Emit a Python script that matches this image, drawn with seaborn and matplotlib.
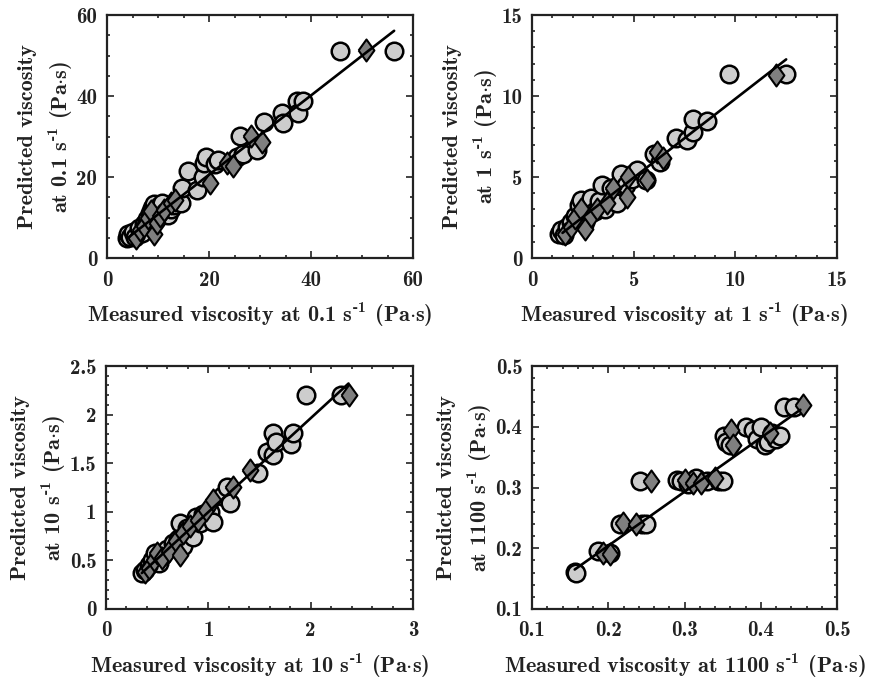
import numpy as np
import pandas as pd
import matplotlib
matplotlib.use("Agg")
import matplotlib.pyplot as plt
import seaborn as sns
from matplotlib.ticker import MultipleLocator, FuncFormatter

# ---------------- data ----------------
# Panel 1: 0.1 s^-1
c1_x = [3.9, 4.2, 4.6, 5.0, 5.5, 6.2, 6.8, 7.3, 7.8, 8.4, 8.8, 9.3, 9.6, 10.2, 10.8, 11.3, 11.9, 12.5,
        13.2, 14.6, 14.8, 15.8, 17.6, 18.9, 19.1, 19.4, 21.2, 21.8, 25.5, 26.1, 26.7, 29.5, 30.8, 34.4,
        34.5, 37.2, 37.4, 38.4, 45.7, 56.3]
c1_y = [4.9, 6.0, 5.3, 6.5, 5.2, 7.5, 6.2, 8.3, 9.6, 11.2, 12.4, 13.3, 10.8, 12.8, 13.5, 11.4, 10.6, 12.0,
        13.0, 13.5, 17.2, 21.6, 16.8, 20.1, 23.4, 25.0, 23.1, 24.2, 25.0, 30.1, 25.7, 26.7, 33.7, 35.7,
        33.4, 38.8, 35.7, 38.8, 51.0, 51.0]
d1_x = [5.6, 6.5, 7.2, 8.0, 8.6, 9.2, 9.8, 10.4, 11.2, 12.5, 13.3, 20.2, 23.6, 24.8, 28.2, 30.3, 50.7]
d1_y = [5.0, 6.8, 7.8, 9.8, 11.5, 6.0, 8.7, 10.3, 11.8, 13.6, 14.3, 18.6, 23.4, 22.8, 30.1, 28.7, 51.4]
f1_x = [4.0, 56.3]
f1_y = [4.9, 56.1]

# Panel 2: 1 s^-1
c2_x = [1.35, 1.45, 1.55, 1.7, 1.9, 2.1, 2.3, 2.4, 2.6, 2.8, 2.9, 3.1, 3.3, 3.43, 3.6, 3.9, 4.0, 4.2,
        4.4, 4.6, 4.9, 5.15, 5.6, 6.0, 6.3, 7.1, 7.6, 7.9, 7.9, 8.6, 9.7, 12.5]
c2_y = [1.5, 1.7, 1.45, 1.9, 2.2, 2.6, 3.3, 3.6, 2.2, 3.1, 3.7, 2.9, 3.5, 4.5, 3.0, 4.3, 3.7, 3.4,
        5.2, 4.5, 4.9, 5.43, 4.8, 6.4, 5.9, 7.4, 7.3, 7.8, 8.56, 8.48, 11.36, 11.36]
d2_x = [1.6, 1.9, 2.1, 2.4, 2.6, 2.9, 3.2, 3.67, 4.0, 4.66, 4.7, 5.64, 6.13, 6.43, 12.0]
d2_y = [1.5, 1.9, 2.5, 3.0, 1.8, 2.6, 3.0, 3.37, 4.3, 3.78, 5.0, 4.81, 6.56, 6.15, 11.3]
f2_x = [1.5, 12.5]
f2_y = [1.55, 12.26]

# Panel 3: 10 s^-1
c3_x = [0.35, 0.38, 0.42, 0.45, 0.48, 0.52, 0.55, 0.6, 0.65, 0.7, 0.72, 0.75, 0.79, 0.82, 0.85, 0.88,
        0.92, 0.95, 1.02, 1.05, 1.13, 1.18, 1.21, 1.49, 1.57, 1.63, 1.635, 1.66, 1.81, 1.83, 1.955, 2.3]
c3_y = [0.37, 0.40, 0.45, 0.50, 0.58, 0.47, 0.55, 0.62, 0.68, 0.72, 0.88, 0.65, 0.83, 0.78, 0.745, 0.95,
        0.88, 0.98, 1.0, 0.9, 1.16, 1.26, 1.09, 1.4, 1.62, 1.58, 1.81, 1.72, 1.7, 1.81, 2.2, 2.2]
d3_x = [0.38, 0.42, 0.47, 0.5, 0.55, 0.62, 0.68, 0.72, 0.75, 0.82, 0.9, 0.98, 1.05, 1.24, 1.41, 2.37]
d3_y = [0.38, 0.42, 0.5, 0.58, 0.52, 0.6, 0.7, 0.56, 0.78, 0.85, 0.92, 1.02, 1.12, 1.26, 1.43, 2.2]
f3_x = [0.35, 2.37]
f3_y = [0.37, 2.32]

# Panel 4: 1100 s^-1
c4_x = [0.156, 0.158, 0.187, 0.202, 0.215, 0.244, 0.25, 0.242, 0.29, 0.295, 0.305, 0.315, 0.33, 0.345,
        0.351, 0.352, 0.355, 0.36, 0.38, 0.39, 0.395, 0.4, 0.405, 0.41, 0.415, 0.42, 0.425, 0.43, 0.443]
c4_y = [0.161, 0.16, 0.195, 0.193, 0.24, 0.24, 0.24, 0.31, 0.313, 0.31, 0.305, 0.316, 0.31, 0.31,
        0.31, 0.385, 0.375, 0.37, 0.4, 0.395, 0.38, 0.4, 0.37, 0.375, 0.39, 0.38, 0.385, 0.433, 0.433]
d4_x = [0.193, 0.202, 0.219, 0.236, 0.256, 0.3, 0.311, 0.322, 0.34, 0.361, 0.363, 0.412, 0.456]
d4_y = [0.193, 0.19, 0.241, 0.24, 0.31, 0.313, 0.308, 0.307, 0.315, 0.395, 0.37, 0.39, 0.436]
f4_x = [0.156, 0.452]
f4_y = [0.165, 0.428]

rates = ["0.1", "1", "10", "1100"]
limits = [(0, 60), (0, 15), (0, 3), (0.1, 0.5)]
ylimits = [(0, 60), (0, 15), (0, 2.5), (0.1, 0.5)]
xmajor = [20, 5, 1, 0.1]
xminor = [5, 1, 0.2, 0.02]
ymajor = [20, 5, 0.5, 0.1]
yminor = [5, 1, 0.1, 0.02]

# ---------------- style ----------------
sns.set_theme(style="ticks")
plt.rcParams["font.family"] = ["cmb10", "DejaVu Serif"]
plt.rcParams["mathtext.fontset"] = "custom"
plt.rcParams["mathtext.rm"] = "cmb10"
plt.rcParams["mathtext.bf"] = "cmb10"
plt.rcParams["mathtext.it"] = "cmb10"
plt.rcParams["axes.unicode_minus"] = False

W, H = 883, 683
fig = plt.figure(figsize=(W / 100, H / 100), dpi=100)

boxes = [(107, 15, 413, 258), (532, 15, 837, 258), (106, 366, 413, 609), (532, 366, 837, 609)]

diamond = [(-0.72, 0.0), (0.0, 1.0), (0.72, 0.0), (0.0, -1.0), (-0.72, 0.0)]

data = [(c1_x, c1_y, d1_x, d1_y, f1_x, f1_y),
        (c2_x, c2_y, d2_x, d2_y, f2_x, f2_y),
        (c3_x, c3_y, d3_x, d3_y, f3_x, f3_y),
        (c4_x, c4_y, d4_x, d4_y, f4_x, f4_y)]

fmt = FuncFormatter(lambda v, p: ("%.4g" % round(v, 6)))
unit = r"(Pa$\cdot$s)"
sup = r"s$^{\text{-1}}$"

for i, (box, (cx, cy, dx, dy, fx, fy)) in enumerate(zip(boxes, data)):
    x0, y0, x1, y1 = box
    ax = fig.add_axes([x0 / W, 1 - y1 / H, (x1 - x0) / W, (y1 - y0) / H])
    dfc = pd.DataFrame({"x": cx, "y": cy})
    dfd = pd.DataFrame({"x": dx, "y": dy})
    dff = pd.DataFrame({"x": fx, "y": fy})
    sns.scatterplot(data=dfc, x="x", y="y", ax=ax, marker="o", s=160,
                    color="#cdcdcd", edgecolor="black", linewidth=1.8, zorder=2)
    sns.scatterplot(data=dfd, x="x", y="y", ax=ax, marker=diamond, s=250,
                    color="#7f7f7f", edgecolor="black", linewidth=1.5, zorder=3)
    sns.lineplot(data=dff, x="x", y="y", ax=ax, color="black", linewidth=1.9, zorder=4)

    ax.set_xlim(*limits[i])
    ax.set_ylim(*ylimits[i])
    ax.xaxis.set_major_locator(MultipleLocator(xmajor[i]))
    ax.xaxis.set_minor_locator(MultipleLocator(xminor[i]))
    ax.yaxis.set_major_locator(MultipleLocator(ymajor[i]))
    ax.yaxis.set_minor_locator(MultipleLocator(yminor[i]))
    ax.xaxis.set_major_formatter(fmt)
    ax.yaxis.set_major_formatter(fmt)
    ax.tick_params(which="both", direction="in", top=True, right=True,
                   color="#222222", labelsize=15, width=1.2, labelcolor="#222222")
    ax.tick_params(which="major", length=5)
    ax.tick_params(axis="x", which="major", pad=9)
    ax.tick_params(axis="y", which="major", pad=7)
    ax.tick_params(which="minor", length=2.5)
    for sp in ax.spines.values():
        sp.set_linewidth(1.6)
        sp.set_color("#222222")
    ax.set_xlabel("Measured viscosity at " + rates[i] + " " + sup + " " + unit,
                  fontsize=16, labelpad=8, color="#222222")
    ax.set_ylabel("Predicted viscosity\nat " + rates[i] + " " + sup + " " + unit,
                  fontsize=16, labelpad=1, color="#222222", linespacing=1.45)
    ax.grid(False)

fig.savefig("out.png", dpi=100)
